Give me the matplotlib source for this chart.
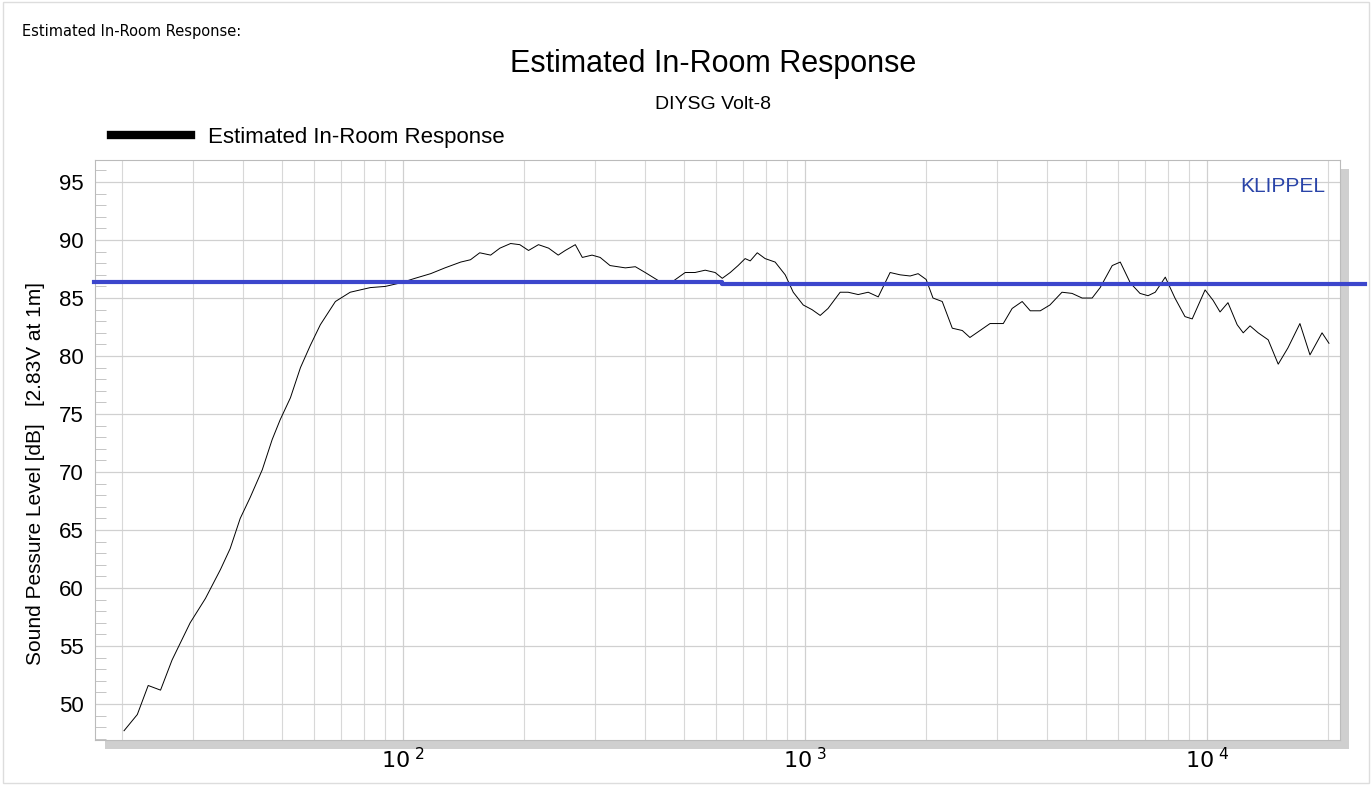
import numpy as np
import matplotlib.pyplot as plt
from matplotlib.patches import Rectangle
from matplotlib.ticker import FixedLocator, MultipleLocator, NullFormatter

plt.rcParams['font.family'] = ['Liberation Sans', 'DejaVu Sans']

freq = [20.2, 21.8, 23.2, 24.9, 26.6, 29.5, 32.2, 35.1, 37.1, 39.3, 41.6, 44.6, 47.2, 49.4,
        52.4, 55.5, 58.7, 62.2, 67.8, 73.8, 82.8, 90.2, 98.3, 107, 117, 127, 139, 147, 155,
        165, 174, 185, 195, 205, 217, 230, 243, 253, 268, 279, 295, 309, 327, 357, 378, 400,
        436, 467, 503, 532, 564, 597, 622, 651, 681, 709, 730, 760, 795, 842, 892, 934, 989,
        1040, 1090, 1140, 1222, 1279, 1355, 1435, 1520, 1627, 1723, 1825, 1910, 2000, 2080,
        2193, 2323, 2460, 2570, 2723, 2884, 3111, 3273, 3467, 3631, 3846, 4064, 4355, 4613,
        4887, 5176, 5420, 5808, 6081, 6442, 6808, 7129, 7430, 7870, 8318, 8810, 9183, 9886,
        10350, 10770, 11270, 11880, 12300, 12790, 13400, 14190, 15030, 15890, 17020, 18030,
        19320, 20100]
spl = [47.7, 49.1, 51.6, 51.2, 53.8, 57.0, 59.1, 61.6, 63.4, 66.0, 67.8, 70.2, 72.8, 74.5,
       76.4, 79.0, 80.9, 82.7, 84.7, 85.5, 85.9, 86.0, 86.3, 86.7, 87.1, 87.6, 88.1, 88.3, 88.9,
       88.7, 89.3, 89.7, 89.6, 89.1, 89.6, 89.3, 88.7, 89.1, 89.6, 88.5, 88.7, 88.5, 87.8, 87.6,
       87.7, 87.2, 86.4, 86.4, 87.2, 87.2, 87.4, 87.2, 86.7, 87.2, 87.8, 88.4, 88.2, 88.9, 88.4,
       88.1, 87.0, 85.5, 84.4, 84.0, 83.5, 84.1, 85.5, 85.5, 85.3, 85.5, 85.1, 87.2, 87.0, 86.9,
       87.1, 86.6, 85.0, 84.7, 82.4, 82.2, 81.6, 82.2, 82.8, 82.8, 84.1, 84.7, 83.9, 83.9, 84.4,
       85.5, 85.4, 85.0, 85.0, 85.9, 87.8, 88.1, 86.3, 85.4, 85.2, 85.5, 86.8, 85.0, 83.4, 83.2,
       85.7, 84.8, 83.8, 84.6, 82.7, 82.0, 82.6, 82.0, 81.4, 79.3, 80.7, 82.8, 80.1, 82.0, 81.1]

avg_freq = [17, 620, 620, 24700]
avg_spl = [86.4, 86.4, 86.2, 86.2]

fig = plt.figure(figsize=(13.72, 7.85), dpi=100)
fig.patches.append(Rectangle((0.002, 0.002), 0.996, 0.996, transform=fig.transFigure,
                             fill=False, edgecolor='#dddddd', lw=1))
fig.text(0.016, 0.96, 'Estimated In-Room Response:', fontsize=10.5, family='DejaVu Sans',
         va='center')
fig.text(0.52, 0.919, 'Estimated In-Room Response', fontsize=22, ha='center', va='center')
fig.text(0.52, 0.867, 'DIYSG Volt-8', fontsize=14, ha='center', va='center')

ax = fig.add_axes([0.0692, 0.0573, 0.9074, 0.7389])
# drop shadow
fig.patches.append(Rectangle((0.0692 + 0.007, 0.0573 - 0.012), 0.9074, 0.7389,
                             transform=fig.transFigure, facecolor='#cfcfcf',
                             edgecolor='none', zorder=-5))
ax.set_facecolor('white')
ax.set_xscale('log')
ax.set_xlim(17.1, 21400)
ax.set_ylim(46.9, 96.9)

ax.plot(freq, spl, color='black', lw=0.7, label='Estimated In-Room Response')
ax.plot(avg_freq, avg_spl, color='#3c46cc', lw=3, clip_on=False, zorder=5)

ax.xaxis.set_major_locator(FixedLocator([100, 1000, 10000]))
ax.set_xticklabels([r'$10^{\ 2}$', r'$10^{\ 3}$', r'$10^{\ 4}$'], fontsize=16)
ax.xaxis.set_minor_formatter(NullFormatter())
ax.yaxis.set_major_locator(MultipleLocator(5))
ax.yaxis.set_minor_locator(MultipleLocator(1))
ax.tick_params(axis='y', labelsize=16, direction='in', length=0, pad=8)
ax.tick_params(axis='y', which='minor', direction='in', length=8, color='#bbbbbb')
ax.tick_params(axis='x', which='both', length=0, pad=6)
ax.grid(which='major', color='#d0d0d0', lw=0.9)
ax.grid(which='minor', axis='x', color='#d8d8d8', lw=0.8)
for s in ax.spines.values():
    s.set_color('#bbbbbb')
ax.set_ylabel('Sound Pessure Level [dB]   [2.83V at 1m]', fontsize=15, labelpad=12)
ax.yaxis.set_label_coords(-0.04, 0.46)
ax.text(0.988, 0.97, 'KLIPPEL', transform=ax.transAxes, ha='right', va='top',
        color='#2a44a8', fontsize=15)

fig.legend(handles=ax.lines[:1], loc='center left', bbox_to_anchor=(0.066, 0.825),
           frameon=False, fontsize=16, handlelength=3.6)
for l in fig.legends[0].get_lines():
    l.set_linewidth(6)

fig.savefig('out.png', dpi=100)
